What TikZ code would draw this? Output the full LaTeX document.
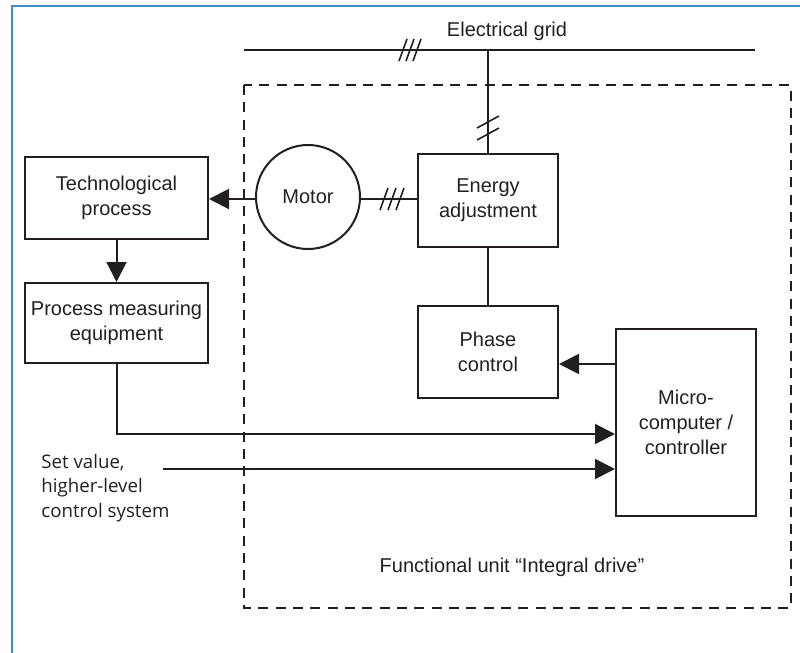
\documentclass[tikz,border=0pt]{standalone}
\usepackage{fontspec}
\setmainfont{Liberation Sans}
\newfontfamily\setvalfont{Open Sans}
\usetikzlibrary{arrows.meta}
\definecolor{frameblue}{RGB}{66,140,200}
\definecolor{ink}{RGB}{35,31,32}
\begin{document}
\begin{tikzpicture}[x=0.75pt,y=-0.75pt,
  line width=1.5pt, draw=ink,
  every node/.style={font=\fontsize{15}{18.75}\selectfont, text=ink},
  blk/.style={draw=ink, line width=1.5pt, align=center, inner sep=0pt},
  conn/.style={draw=ink, line width=1.5pt},
  arr/.style={conn, -{Triangle[length=15pt,width=15pt]}},
  slash/.style={draw=ink, line width=1.2pt},
  dashbox/.style={draw=ink, line width=1.4pt, dash pattern=on 7.5pt off 5.5pt}
]
\useasboundingbox (0,0) rectangle (800,653);
% frame
\draw[frameblue, line width=1.6pt] (12,653) -- (12,6) -- (800,6);

% dashed functional unit
\draw[dashbox] (244,85) rectangle (791,608);
\node (fu) at (512,567) {Functional unit \textquotedblleft Integral drive\textquotedblright};

% grid
\coordinate (gridL) at (244,50);
\coordinate (gridR) at (755,50);
\coordinate (gridJ) at (488,50);
\draw[conn] (gridL) -- (gridR);
\node (gridlbl) at (507,31) {Electrical grid};

% blocks
\node[blk, minimum width=137.25pt, minimum height=61.5pt] (tech) at (116.5,198) {Technological\\process};
\node[blk, minimum width=137.25pt, minimum height=60pt] (meas) at (116.5,323) {Process measuring\\equipment};
\node[blk, circle, minimum size=78pt] (motor) at (308,197) {Motor};
\node[blk, minimum width=105pt, minimum height=69.75pt] (energy) at (488,200.5) {Energy\\adjustment};
\node[blk, minimum width=105pt, minimum height=69pt] (phase) at (488,352) {Phase\\control};
\node[blk, minimum width=105pt, minimum height=140.25pt] (micro) at (686,422.5) {Micro-\\computer /\\controller};

\node[align=left, anchor=west, font=\setvalfont\fontsize{14}{18.5}\selectfont] (setval) at (36,488) {Set value,\\higher-level\\control system};
\coordinate (setstart) at (163,469);

% connectors
\draw[conn] (gridJ) -- (energy.north);
\draw[conn] (motor.east |- 0,199) -- (energy.west |- 0,199);
\draw[arr] (motor.west |- 0,199) -- (tech.east |- 0,199);
\draw[arr] (tech.south) -- (meas.north);
\draw[conn] (energy.south) -- (phase.north);
\draw[arr] (micro.west |- 0,364) -- (phase.east |- 0,364);
\draw[arr] (meas.south) |- (micro.west |- 0,434);
\draw[arr] (setstart) -- (micro.west |- setstart);

% slashes: grid triple
\foreach \dx in {-7,0,7} \draw[slash] (410+\dx-4,61) -- (410+\dx+4,39);
% motor-energy triple
\foreach \dx in {-8,0,8} \draw[slash] (392+\dx-4,210) -- (392+\dx+4,188);
% vertical double
\foreach \dy in {-6,6} \draw[slash] (477,128+\dy+6) -- (499,128+\dy-6);
\end{tikzpicture}
\end{document}
